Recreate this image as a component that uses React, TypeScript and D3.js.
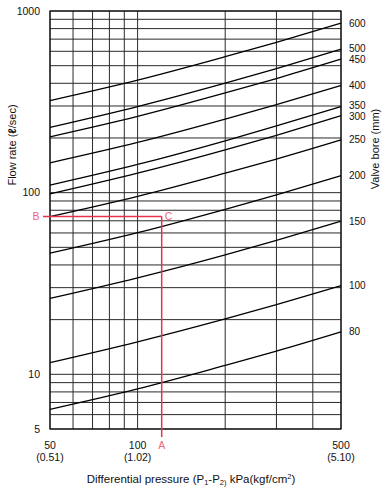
import React from "react";
import * as d3 from "d3";

// differential pressure (kPa) at which each curve was read
const PRESSURES = [50, 100, 200, 300, 500];

// flow rate (l/sec) for each valve bore
const FLOW_600 = [321, 416, 560, 672, 857];
const FLOW_500 = [229, 298, 401, 482, 616];
const FLOW_450 = [203, 263, 354, 425, 543];
const FLOW_400 = [146, 189, 254, 305, 389];
const FLOW_350 = [110, 143, 193, 233, 298];
const FLOW_300 = [98.4, 128, 172, 207, 265];
const FLOW_250 = [73.8, 95.4, 128, 153, 195];
const FLOW_200 = [46.4, 60.2, 81.0, 97.2, 124];
const FLOW_150 = [26.2, 34.0, 45.5, 54.6, 69.6];
const FLOW_100 = [11.6, 15.1, 20.2, 24.2, 30.8];
const FLOW_80 = [6.42, 8.32, 11.2, 13.4, 17.1];

const BORES = ["600", "500", "450", "400", "350", "300", "250", "200", "150", "100", "80"];
const FLOWS = [FLOW_600, FLOW_500, FLOW_450, FLOW_400, FLOW_350, FLOW_300, FLOW_250, FLOW_200, FLOW_150, FLOW_100, FLOW_80];

const X_GRID = [50, 60, 70, 80, 90, 100, 200, 300, 400, 500];
const Y_GRID = [5, 6, 7, 8, 9, 10, 20, 30, 40, 50, 60, 70, 80, 90, 100, 200, 300, 400, 500, 600, 700, 800, 900, 1000];
const X_TICKS = [50, 100, 500];
const X_TICK_KGF = ["(0.51)", "(1.02)", "(5.10)"];
const Y_TICKS = [5, 10, 100, 1000];

// worked example: A (pressure), B (flow), C (intersection)
const EXAMPLE_DP = 121;
const EXAMPLE_Q = 74;

const FONT = "'Liberation Sans', Arial, Helvetica, sans-serif";
const RED = "#e8314c";
const RED_TEXT = "#f0637a";

export default function App() {
  const width = 390;
  const height = 495;
  const margin = { top: 11, right: 49, bottom: 66, left: 50 };
  const x0 = margin.left;
  const x1 = width - margin.right;
  const y0 = height - margin.bottom;
  const y1 = margin.top;

  const x = d3.scaleLog().domain([50, 500]).range([x0, x1]);
  const y = d3.scaleLog().domain([5, 1000]).range([y0, y1]);

  const line = d3.line<[number, number]>()
    .x(d => x(d[0]))
    .y(d => y(d[1]))
    .curve(d3.curveMonotoneX);

  const series = BORES.map((bore, i) => ({
    bore,
    points: PRESSURES.map((p, j) => [p, FLOWS[i][j]] as [number, number]),
  }));

  // bore labels sit at the curve ends, pushed apart where they crowd
  const labelY: number[] = [];
  const gap = 10.5;
  series.forEach((s, i) => {
    const yy = y(s.points[s.points.length - 1][1]);
    labelY.push(i > 0 && yy - labelY[i - 1] < gap ? labelY[i - 1] + gap : yy);
  });
  for (let i = 1; i < labelY.length; i++) {
    const yy = y(series[i].points[series[i].points.length - 1][1]);
    const shift = (labelY[i] - yy) / 2;
    if (shift > 0) { labelY[i - 1] -= shift; labelY[i] -= shift; }
  }

  const cx = x(EXAMPLE_DP);
  const cy = y(EXAMPLE_Q);

  return (
    <>
      <style>{"body{margin:0}"}</style>
      <svg width={width} height={height} style={{ display: "block", fontFamily: FONT }}>
        <rect width={width} height={height} fill="#fff" />

        {/* Grid */}
        {Y_GRID.map(v => (
          <line key={"h" + v} x1={x0} x2={x1} y1={y(v)} y2={y(v)} stroke="#2a2a2a" strokeWidth={1} />
        ))}
        {X_GRID.map(v => (
          <line key={"v" + v} x1={x(v)} x2={x(v)} y1={y1} y2={y0} stroke="#2a2a2a" strokeWidth={1} />
        ))}
        <rect x={x0} y={y1} width={x1 - x0} height={y0 - y1} fill="none" stroke="#111" strokeWidth={1.2} />

        {/* Curves */}
        {series.map(s => (
          <path key={s.bore} d={line(s.points) || ""} fill="none" stroke="#000" strokeWidth={1.3} />
        ))}

        {/* Bore labels */}
        {series.map((s, i) => (
          <text key={"l" + s.bore} x={x1 + 8} y={labelY[i]} dy="0.35em" fontSize={10} fill="#111">{s.bore}</text>
        ))}

        {/* Y tick labels */}
        {Y_TICKS.map(v => (
          <text key={"yt" + v} x={x0 - 10} y={y(v)} dy="0.35em" textAnchor="end" fontSize={10.5} fill="#111">{v}</text>
        ))}

        {/* X tick labels */}
        {X_TICKS.map((v, i) => (
          <g key={"xt" + v}>
            <text x={x(v)} y={y0 + 20} textAnchor="middle" fontSize={10.5} fill="#111">{v}</text>
            <text x={x(v)} y={y0 + 32} textAnchor="middle" fontSize={10.5} fill="#111">{X_TICK_KGF[i]}</text>
          </g>
        ))}

        {/* Axis titles */}
        <text x={191} y={483} textAnchor="middle" fontSize={11.5} fill="#111">
          Differential pressure (P<tspan fontSize={7.5} dy={2}>1</tspan><tspan dy={-2}>-P</tspan>
          <tspan fontSize={7.5} dy={2}>2)</tspan><tspan dy={-2}> kPa(kgf/cm</tspan>
          <tspan fontSize={7.5} dy={-4}>2</tspan><tspan dy={4}>)</tspan>
        </text>
        <text transform="translate(16,145) rotate(-90)" textAnchor="middle" fontSize={11} fill="#111">
          Flow rate (<tspan fontWeight="bold">ℓ</tspan>/sec)
        </text>
        <text transform="translate(379,149) rotate(-90)" textAnchor="middle" fontSize={11} fill="#111">
          Valve bore (mm)
        </text>

        {/* Example A-B-C */}
        <line x1={x0 - 7} x2={cx} y1={cy} y2={cy} stroke={RED} strokeWidth={1.5} />
        <line x1={cx} x2={cx} y1={cy} y2={y0 + 8} stroke={RED} strokeWidth={1.5} />
        <text x={x0 - 14} y={cy} dy="0.35em" textAnchor="middle" fontSize={10.5} fill={RED_TEXT}>B</text>
        <text x={cx + 3} y={cy} dy="0.35em" fontSize={10.5} fill={RED_TEXT}>C</text>
        <text x={cx} y={y0 + 20} textAnchor="middle" fontSize={10.5} fill={RED_TEXT}>A</text>
      </svg>
    </>
  );
}
